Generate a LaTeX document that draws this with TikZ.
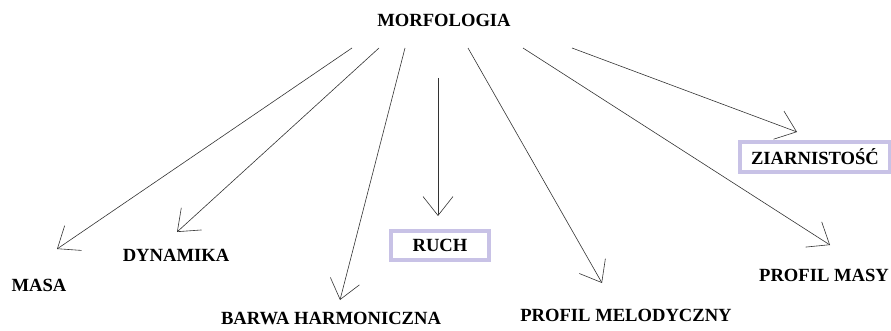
\documentclass[tikz,border=0pt]{standalone}
\usepackage{fontspec}
\setmainfont{Liberation Serif}
\usepackage{tikz}
\usetikzlibrary{arrows.meta}
\definecolor{ramka}{RGB}{200,194,230}
\tikzset{myptr/.style={-{Straight Barb[length=19pt,width=30pt]},line width=0.6pt,draw=black!80}}
\tikzset{etyk/.style={font=\fontsize{18.6}{22}\selectfont\bfseries,inner sep=0pt}}
\tikzset{ramkowy/.style={etyk,draw=ramka,line width=4pt}}

\begin{document}
\begin{tikzpicture}[x=1pt,y=-1pt]

	  \useasboundingbox (0,0) rectangle (891,331);

	  \node [etyk] (morf) at (444,20) {MORFOLOGIA};

	  \node [etyk] (masa) at (39,285) {MASA};
	  \node [etyk] (dyn) at (176,255) {DYNAMIKA};
	  \node [etyk] (barwa) at (331,318) {BARWA HARMONICZNA};
	  \node [ramkowy,minimum width=98pt,minimum height=29pt] (ruch) at (440,245.5) {RUCH};
	  \node [etyk] (melod) at (626,315) {PROFIL MELODYCZNY};
	  \node [etyk] (pmasy) at (824,275) {PROFIL MASY};
	  \node [ramkowy,minimum width=150pt,minimum height=30pt] (ziarn) at (815,157) {ZIARNISTO\'S\'C};

	  % poczatki strzalek pod MORFOLOGIA
	  \coordinate (s1) at (352,48);
	  \coordinate (s2) at (379,48);
	  \coordinate (s3) at (405,48);
	  \coordinate (s4) at (438,78);
	  \coordinate (s5) at (468,48);
	  \coordinate (s6) at (523,48);
	  \coordinate (s7) at (572,48);

	  % groty
	  \coordinate (t1) at (57,249);
	  \coordinate (t2) at (177,232);
	  \coordinate (t3) at (340,300);
	  \coordinate (t4) at (438,216);
	  \coordinate (t5) at (602,283);
	  \coordinate (t6) at (830,245);
	  \coordinate (t7) at (797,132);

	  \draw [myptr] (s1) -- (t1);
	  \draw [myptr] (s2) -- (t2);
	  \draw [myptr] (s3) -- (t3);
	  \draw [myptr] (s4) -- (t4);
	  \draw [myptr] (s5) -- (t5);
	  \draw [myptr] (s6) -- (t6);
	  \draw [myptr] (s7) -- (t7);

\end{tikzpicture}
\end{document}
